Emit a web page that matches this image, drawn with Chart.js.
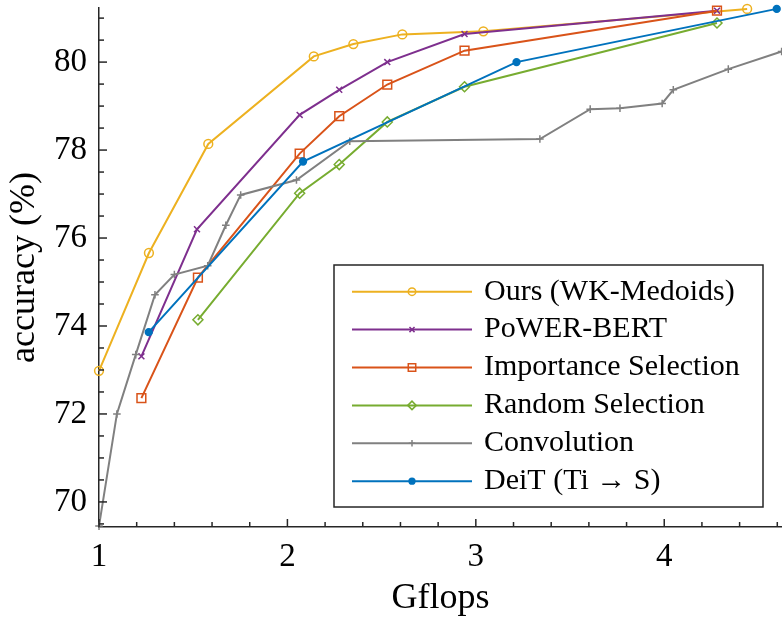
<!DOCTYPE html>
<html>
<head>
<meta charset="utf-8">
<script src="https://cdn.jsdelivr.net/npm/chart.js@4.4.0/dist/chart.umd.min.js"></script>
<style>
  html, body { margin: 0; padding: 0; background: #fff; }
</style>
</head>
<body>
<canvas id="acc-chart" width="782" height="622"></canvas>
<script>
// Gflops vs accuracy
const oursX = [1.00, 1.265, 1.58, 2.14, 2.35, 2.61, 3.04, 4.44];
const oursY = [72.98, 75.66, 78.14, 80.13, 80.41, 80.63, 80.70, 81.21];

const powerX = [1.225, 1.52, 2.065, 2.275, 2.53, 2.94, 4.28];
const powerY = [73.31, 76.20, 78.80, 79.37, 80.00, 80.64, 81.17];

const impX = [1.225, 1.525, 2.065, 2.275, 2.53, 2.94, 4.28];
const impY = [72.36, 75.10, 77.92, 78.77, 79.49, 80.26, 81.17];

const randX = [1.525, 2.065, 2.275, 2.53, 2.94, 4.28];
const randY = [74.14, 77.02, 77.67, 78.64, 79.44, 80.89];

const convX = [1.00, 1.095, 1.195, 1.297, 1.40, 1.577, 1.673, 1.752, 2.048, 2.331, 3.34, 3.607, 3.765, 3.989, 4.048, 4.34, 4.623];
const convY = [69.45, 72.00, 73.35, 74.71, 75.17, 75.37, 76.29, 76.98, 77.32, 78.20, 78.25, 78.93, 78.95, 79.06, 79.37, 79.84, 80.24];

const deitX = [1.264, 2.083, 3.216, 4.597];
const deitY = [73.86, 77.74, 80.00, 81.21];

const seriesNames = ['Ours (WK-Medoids)', 'PoWER-BERT', 'Importance Selection', 'Random Selection', 'Convolution', 'DeiT (Ti \u2192 S)'];

const xTickLabels = [1, 2, 3, 4];
const yTickLabels = [70, 72, 74, 76, 78, 80];

const FONT = '"Liberation Serif", "Times New Roman", serif';
const AXIS_COLOR = '#262626';

function series(label, xs, ys, color, style, radius, filled, order) {
    return {
        label: label,
        data: xs.map(function(x, i) { return { x: x, y: ys[i] }; }),
        borderColor: color,
        backgroundColor: filled ? color : 'rgba(0,0,0,0)',
        pointStyle: style,
        pointRadius: radius,
        pointHoverRadius: radius,
        pointBorderWidth: 1.5,
        pointBorderColor: color,
        pointBackgroundColor: filled ? color : 'rgba(0,0,0,0)',
        borderWidth: 2,
        tension: 0,
        fill: false,
        clip: false,
        order: order
    };
}

const datasets = [
    series(seriesNames[0], oursX, oursY, '#EDB120', 'circle', 4.4, false, 5),
    series(seriesNames[1], powerX, powerY, '#7E2F8E', 'crossRot', 4.2, false, 4),
    series(seriesNames[2], impX, impY, '#D95319', 'rect', 6.2, false, 3),
    series(seriesNames[3], randX, randY, '#77AC30', 'rectRot', 5, false, 2),
    series(seriesNames[4], convX, convY, '#808080', 'cross', 3.8, false, 1),
    series(seriesNames[5], deitX, deitY, '#0072BD', 'circle', 3.4, true, 0)
];

function stepTicks(from, to, step) {
    const out = [];
    for (let v = from; v <= to + 1e-9; v += step) {
        out.push({ value: Math.round(v * 100) / 100 });
    }
    return out;
}

// MATLAB style ticks pointing into the plot
const innerTicks = {
    id: 'innerTicks',
    afterDatasetsDraw(chart) {
        const ctx = chart.ctx;
        const area = chart.chartArea;
        ctx.save();
        ctx.strokeStyle = AXIS_COLOR;
        ctx.lineWidth = 1.5;
        chart.scales.x.ticks.forEach(function(t) {
            const px = chart.scales.x.getPixelForValue(t.value);
            const len = xTickLabels.indexOf(t.value) >= 0 ? 8 : 5;
            ctx.beginPath();
            ctx.moveTo(px, area.bottom);
            ctx.lineTo(px, area.bottom - len);
            ctx.stroke();
        });
        chart.scales.y.ticks.forEach(function(t) {
            const py = chart.scales.y.getPixelForValue(t.value);
            const len = yTickLabels.indexOf(t.value) >= 0 ? 8 : 5;
            ctx.beginPath();
            ctx.moveTo(area.left, py);
            ctx.lineTo(area.left + len, py);
            ctx.stroke();
        });
        ctx.restore();
    }
};

// legend box with line + marker samples
const boxLegend = {
    id: 'boxLegend',
    afterDraw(chart) {
        const ctx = chart.ctx;
        const left = 334, top = 265, right = 763, bottom = 507;
        const rowH = 37.9, firstRow = 291.7;
        ctx.save();
        ctx.fillStyle = '#fff';
        ctx.fillRect(left, top, right - left, bottom - top);
        ctx.strokeStyle = AXIS_COLOR;
        ctx.lineWidth = 1.5;
        ctx.strokeRect(left, top, right - left, bottom - top);

        chart.data.datasets.forEach(function(ds, i) {
            const y = firstRow + i * rowH;
            ctx.strokeStyle = ds.borderColor;
            ctx.lineWidth = 2;
            ctx.beginPath();
            ctx.moveTo(352, y);
            ctx.lineTo(472, y);
            ctx.stroke();

            ctx.fillStyle = ds.pointBackgroundColor;
            ctx.strokeStyle = ds.pointBorderColor;
            ctx.lineWidth = ds.pointBorderWidth;
            if (Chart.helpers && Chart.helpers.drawPoint) {
                Chart.helpers.drawPoint(ctx, {
                    pointStyle: ds.pointStyle,
                    radius: ds.pointRadius * 0.85,
                    borderWidth: ds.pointBorderWidth,
                    rotation: 0
                }, 412, y);
            }

            ctx.fillStyle = '#000';
            ctx.font = '30px ' + FONT;
            ctx.textBaseline = 'middle';
            ctx.textAlign = 'left';
            ctx.fillText(ds.label, 484, y);
        });
        ctx.restore();
    }
};

const ctx = document.getElementById('acc-chart');
new Chart(ctx, {
    type: 'line',
    data: { datasets: datasets },
    plugins: [innerTicks, boxLegend],
    options: {
        responsive: false,
        animation: false,
        devicePixelRatio: 1,
        layout: { autoPadding: false, padding: { top: 8, left: 0, right: 0, bottom: 0 } },
        plugins: {
            legend: { display: false },
            tooltip: { enabled: false }
        },
        scales: {
            x: {
                type: 'linear',
                min: 1,
                max: 4.625,
                afterBuildTicks: function(scale) { scale.ticks = stepTicks(1, 4.6, 0.2); },
                afterFit: function(scale) {
                    scale.height = 95;
                    scale.paddingLeft = 0;
                    scale.paddingRight = 0;
                },
                grid: { display: false, drawTicks: false },
                border: { display: true, color: AXIS_COLOR, width: 1.5 },
                ticks: {
                    autoSkip: false,
                    maxRotation: 0,
                    padding: 11,
                    color: '#000',
                    font: { family: FONT, size: 33 },
                    callback: function(value) {
                        return xTickLabels.indexOf(value) >= 0 ? String(value) : '';
                    }
                },
                title: {
                    display: true,
                    text: 'Gflops',
                    color: '#000',
                    font: { family: FONT, size: 36 },
                    padding: { top: 0, bottom: 2 }
                }
            },
            y: {
                type: 'linear',
                min: 69.43,
                max: 81.23,
                afterBuildTicks: function(scale) { scale.ticks = stepTicks(69.5, 81, 0.5); },
                afterFit: function(scale) {
                    scale.width = 99;
                    scale.paddingTop = 0;
                    scale.paddingBottom = 0;
                },
                grid: { display: false, drawTicks: false },
                border: { display: true, color: AXIS_COLOR, width: 1.5 },
                ticks: {
                    autoSkip: false,
                    padding: 12,
                    color: '#000',
                    font: { family: FONT, size: 33 },
                    callback: function(value) {
                        return yTickLabels.indexOf(value) >= 0 ? String(value) : '';
                    }
                },
                title: {
                    display: true,
                    text: 'accuracy (%)',
                    color: '#000',
                    font: { family: FONT, size: 36 },
                    padding: { top: 3, bottom: 0 }
                }
            }
        }
    }
});
</script>
</body>
</html>
